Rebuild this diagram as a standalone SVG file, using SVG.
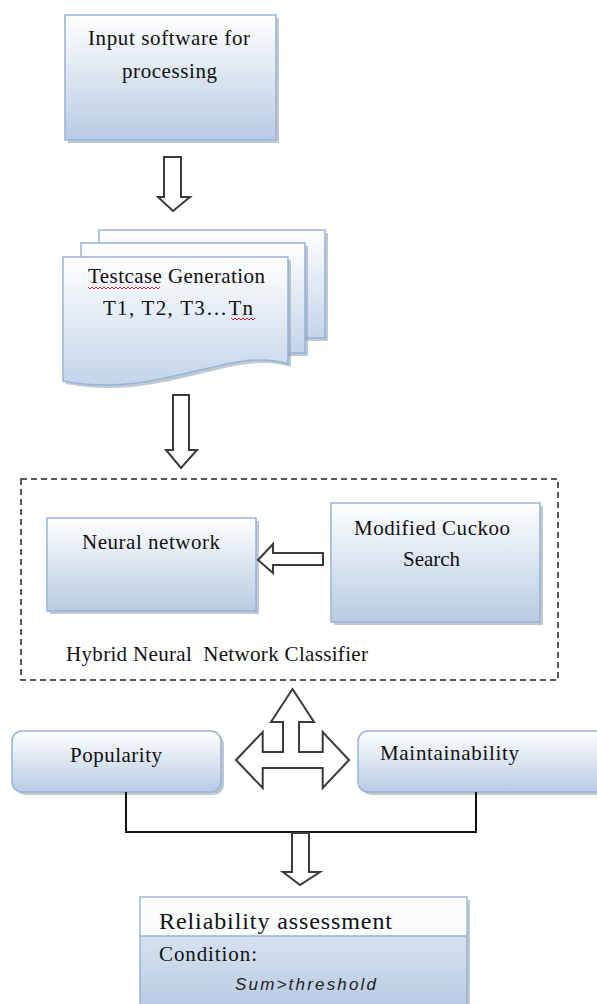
<svg xmlns="http://www.w3.org/2000/svg" width="597" height="1004" viewBox="0 0 597 1004">
<defs>
<linearGradient id="gb" x1="0" y1="0" x2="0" y2="1">
<stop offset="0" stop-color="#ffffff"/>
<stop offset="1" stop-color="#b7cbe3"/>
</linearGradient>
<linearGradient id="gb2" x1="0" y1="0" x2="0" y2="1">
<stop offset="0" stop-color="#e9eef6"/>
<stop offset="1" stop-color="#b7cbe3"/>
</linearGradient>
<linearGradient id="gd" x1="0" y1="0" x2="0" y2="1">
<stop offset="0" stop-color="#ffffff"/>
<stop offset="1" stop-color="#c3d4ea"/>
</linearGradient>
</defs>
<style>
.box{fill:url(#gb);stroke:#95b3d7;stroke-width:1.5}
.doc{fill:url(#gd);stroke:#95b3d7;stroke-width:1.5}
.sh{fill:#8f9bab;opacity:0.55}
.arr{fill:#ffffff;stroke:#3a3a3a;stroke-width:2;stroke-linejoin:miter}
.t{font-family:"Liberation Serif","Times New Roman",serif;font-size:21px;fill:#111}
.ln{fill:none;stroke:#111;stroke-width:2}
.sq{fill:none;stroke:#e02020;stroke-width:1}
</style>

<g id="input-software">
<rect class="sh" x="68" y="18" width="211" height="125"/>
<rect class="box" x="65" y="15" width="211" height="125"/>
<text class="t" x="88" y="45" textLength="162" lengthAdjust="spacing">Input software for</text>
<text class="t" x="122" y="78" textLength="95" lengthAdjust="spacing">processing</text>
</g>

<g id="testcase-generation">
<rect class="sh" x="102" y="233" width="226" height="108"/>
<rect class="doc" x="99" y="230" width="226" height="108"/>
<rect class="sh" x="84" y="246" width="224" height="110"/>
<rect class="doc" x="81" y="243" width="224" height="110"/>
<path class="sh" d="M66,260 H291 V367 C233,348 163,403 66,384 Z"/>
<path class="doc" d="M63,257 H288 V364 C230,345 160,400 63,381 Z"/>
<text class="t" x="88" y="283" textLength="177" lengthAdjust="spacing">Testcase Generation</text>
<text class="t" x="103" y="315" textLength="150" lengthAdjust="spacing">T1, T2, T3…Tn</text>
<path class="sq" d="M88,287 l2,2 l2,-2 l2,2 l2,-2 l2,2 l2,-2 l2,2 l2,-2 l2,2 l2,-2 l2,2 l2,-2 l2,2 l2,-2 l2,2 l2,-2 l2,2 l2,-2 l2,2 l2,-2 l2,2 l2,-2 l2,2 l2,-2 l2,2 l2,-2 l2,2 l2,-2 l2,2 l2,-2 l2,2 l2,-2 l2,2 l2,-2 l2,2 l2,-2"/>
<path class="sq" d="M231,318 l2,2 l2,-2 l2,2 l2,-2 l2,2 l2,-2 l2,2 l2,-2 l2,2 l2,-2 l2,2 l2,-2"/>
</g>

<g id="hybrid-classifier">
<rect x="21" y="479" width="537" height="201" fill="none" stroke="#222" stroke-width="1.5" stroke-dasharray="6,4"/>
<text class="t" x="66" y="661" textLength="302" lengthAdjust="spacing" style="white-space:pre">Hybrid Neural  Network Classifier</text>
</g>

<g id="neural-network">
<rect class="sh" x="50" y="521" width="209" height="93"/>
<rect class="box" x="47" y="518" width="209" height="93"/>
<text class="t" x="82" y="549" textLength="138" lengthAdjust="spacing">Neural network</text>
</g>

<g id="modified-cuckoo">
<rect class="sh" x="334" y="506" width="209" height="119"/>
<rect class="box" x="331" y="503" width="209" height="119"/>
<text class="t" x="354" y="535" textLength="156" lengthAdjust="spacing">Modified Cuckoo</text>
<text class="t" x="403" y="566" textLength="57" lengthAdjust="spacing">Search</text>
</g>

<g id="popularity">
<rect class="sh" x="15" y="734" width="209" height="61" rx="10"/>
<rect class="box" x="12" y="731" width="209" height="61" rx="10"/>
<text class="t" x="70" y="762" textLength="92" lengthAdjust="spacing">Popularity</text>
</g>

<g id="maintainability">
<rect class="sh" x="361" y="734" width="260" height="61" rx="10"/>
<rect class="box" x="358" y="731" width="260" height="61" rx="10"/>
<text class="t" x="380" y="760" textLength="139" lengthAdjust="spacing">Maintainability</text>
</g>

<g id="reliability-assessment">
<rect class="sh" x="143" y="900" width="327" height="110"/>
<rect x="140" y="897" width="327" height="110" fill="url(#gb2)" stroke="#95b3d7" stroke-width="1.5"/>
<rect x="140.75" y="897.75" width="325.5" height="38.25" fill="#fafcfe"/>
<line x1="140" y1="936" x2="467" y2="936" stroke="#95b3d7" stroke-width="1.5"/>
<text class="t" x="159" y="929" style="font-size:24px" textLength="233" lengthAdjust="spacing">Reliability assessment</text>
<text class="t" x="159" y="961" textLength="98" lengthAdjust="spacing">Condition:</text>
<text x="235" y="990" style="font-family:'Liberation Sans',Arial,sans-serif;font-size:17px;font-style:italic;fill:#222" textLength="141" lengthAdjust="spacing">Sum&gt;threshold</text>
</g>

<g id="connectors">
<path class="arr" d="M164,157 H181 V197 H190 L173,211 L158,197 H164 Z"/>
<path class="arr" d="M173,395 H189 V450 H197 L181,468 L166,450 H173 Z"/>
<path class="arr" d="M323,553 V565 H273 V573 L258,560 L273,544 V553 Z"/>
<path class="arr" d="M292.5,689 L314,722 H299 V752 H322.7 V732 L349,760 L322.7,788 V768 H262.7 V788 L236,760 L262.7,732 V752 H283 V722 H271 Z"/>
<path class="ln" d="M126,792 V832 H476 V792"/>
<path class="arr" d="M292,833 H309 V872 H320 L300,885 L283,872 H292 Z"/>
</g>
</svg>
